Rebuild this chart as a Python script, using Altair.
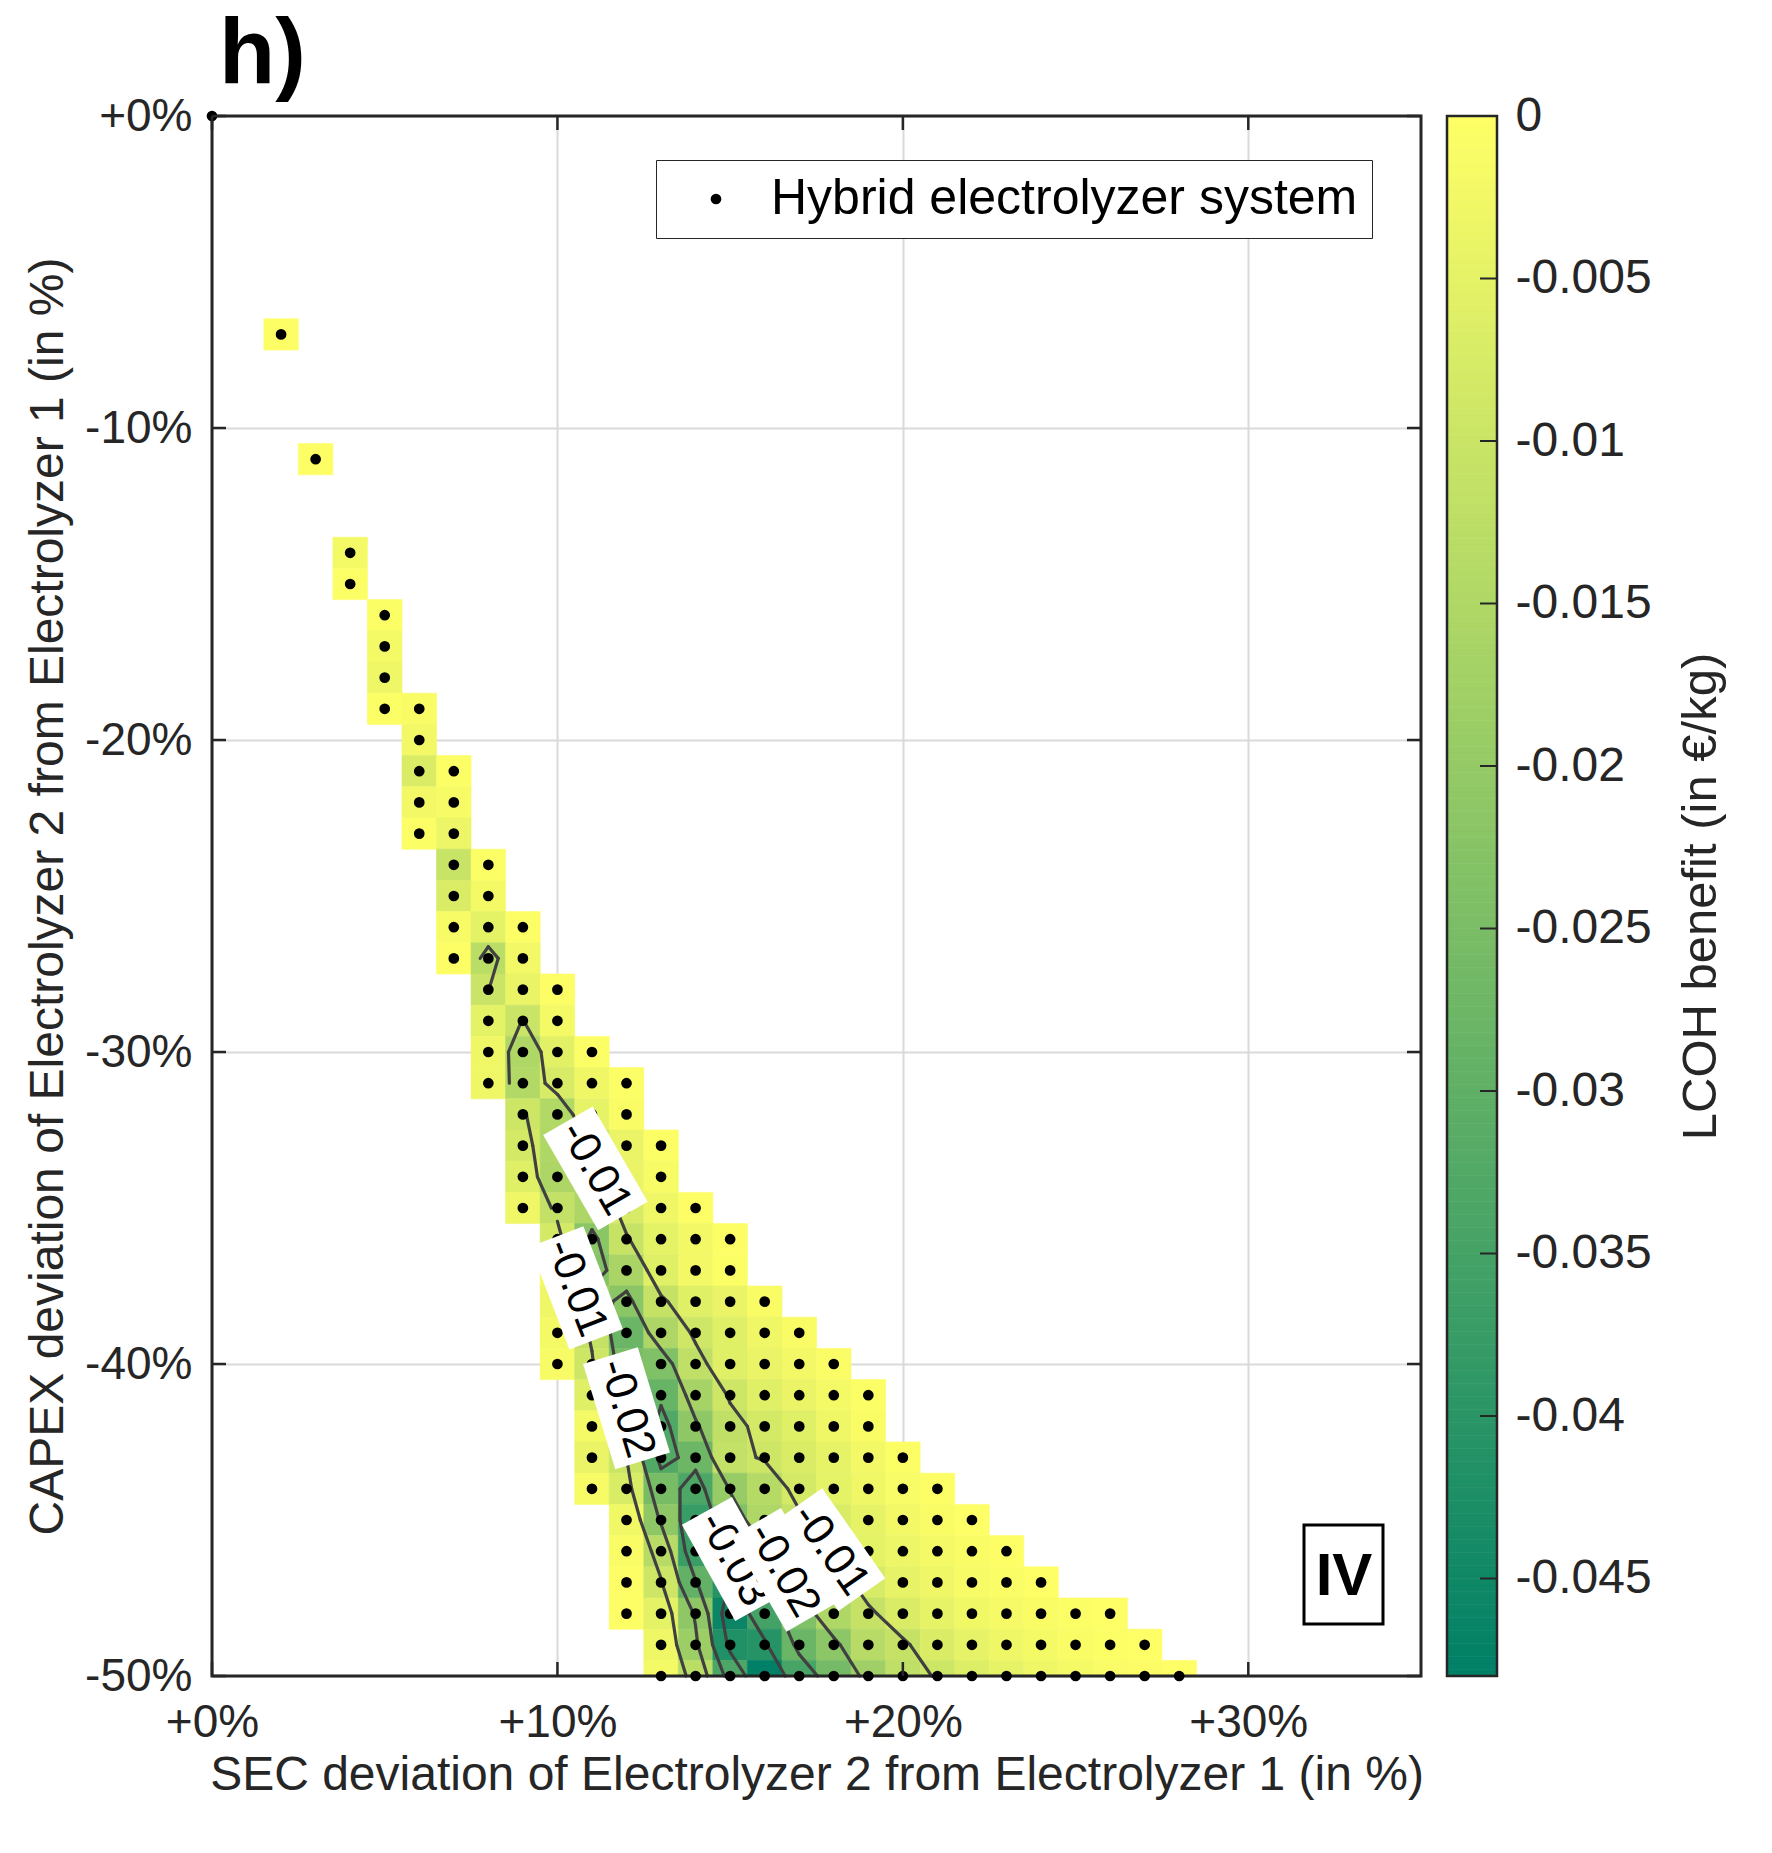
import numpy as np
import pandas as pd
import altair as alt

FONT = "Liberation Sans"
W, H = 1209, 1560

# ---------------- data (LCOH benefit in EUR/kg) ----------------
capex_rows = [-7, -11, -14, -15, -16, -17, -18, -19, -20, -21, -22, -23, -24, -25, -26, -27,
              -28, -29, -30, -31, -32, -33, -34, -35, -36, -37, -38, -39, -40, -41, -42, -43,
              -44, -45, -46, -47, -48, -49, -50]
sec_first = [2, 3, 4, 4, 5, 5, 5, 5, 6, 6, 6, 6, 7, 7, 7, 7,
             8, 8, 8, 8, 9, 9, 9, 9, 10, 10, 10, 10, 10, 11, 11, 11,
             11, 12, 12, 12, 12, 13, 13]
lcoh_rows = [
    [-0.0003],
    [-0.0003],
    [-0.002],
    [-0.0005],
    [-0.0005],
    [-0.002],
    [-0.003],
    [-0.0005, -0.001],
    [-0.0025],
    [-0.007, -0.0005],
    [-0.0025, -0.0015],
    [-0.0005, -0.0035],
    [-0.0103, -0.0005],
    [-0.007, -0.002],
    [-0.0015, -0.005, -0.0003],
    [-0.0003, -0.013, -0.0025],
    [-0.0101, -0.004, -0.0003],
    [-0.005, -0.0102, -0.002],
    [-0.003, -0.015, -0.0055, -0.0005],
    [-0.003, -0.0145, -0.0075, -0.003, -0.0005],
    [-0.0095, -0.0145, -0.0045, -0.001],
    [-0.008, -0.015, -0.009, -0.004, -0.0005],
    [-0.006, -0.0155, -0.013, -0.004, -0.0015],
    [-0.003, -0.0115, -0.0155, -0.0076, -0.003, -0.0003],
    [-0.008, -0.022, -0.0105, -0.005, -0.0025, -0.0003],
    [-0.002, -0.023, -0.016, -0.006, -0.0025, -0.0005],
    [-0.003, -0.017, -0.022, -0.011, -0.006, -0.004, -0.001],
    [-0.002, -0.011, -0.028, -0.0155, -0.009, -0.006, -0.003, -0.001],
    [-0.0015, -0.0093, -0.025, -0.024, -0.012, -0.006, -0.004, -0.0025, -0.0008],
    [-0.006, -0.019, -0.0285, -0.0166, -0.0093, -0.006, -0.004, -0.002, -0.0005],
    [-0.002, -0.01675, -0.033, -0.021, -0.012, -0.008, -0.006, -0.003, -0.001],
    [-0.004, -0.010, -0.0325, -0.0275, -0.0115, -0.0095, -0.007, -0.0045, -0.0025, -0.0005],
    [-0.0015, -0.0073, -0.0255, -0.0337, -0.0195, -0.014, -0.008, -0.005, -0.003, -0.0013, -0.0003],
    [-0.0027, -0.021, -0.0374, -0.024, -0.015, -0.011, -0.007, -0.0045, -0.0025, -0.001, -0.0002],
    [-0.001, -0.0135, -0.037, -0.036, -0.021, -0.015, -0.0095, -0.005, -0.0035, -0.002, -0.001, -0.0003],
    [-0.0003, -0.0095, -0.0295, -0.0405, -0.0275, -0.019, -0.013, -0.0075, -0.0045, -0.003, -0.0015,
     -0.0008, -0.0002],
    [-0.0003, -0.005, -0.021, -0.046, -0.035, -0.024, -0.015, -0.011, -0.007, -0.0045, -0.0028,
     -0.0018, -0.001, -0.0005, -0.0002],
    [-0.003, -0.0185, -0.042, -0.041, -0.028, -0.0215, -0.0135, -0.0108, -0.007, -0.0045, -0.003,
     -0.002, -0.001, -0.0005, -0.0002],
    [-0.002, -0.013, -0.0335, -0.048, -0.0345, -0.026, -0.018, -0.012, -0.0096, -0.0065, -0.0045,
     -0.003, -0.002, -0.0012, -0.0006, -0.0002],
]
extra_dot_sec = [0]
extra_dot_capex = [0]

sec_ticks = [0, 10, 20, 30]
capex_ticks = [0, -10, -20, -30, -40, -50]
lcoh_ticks = [0, -0.005, -0.01, -0.015, -0.02, -0.025, -0.03, -0.035, -0.04, -0.045]
lcoh_range = [-0.048, 0]
contour_levels = [-0.01, -0.02, -0.03, -0.04]

label_text = ["-0.01", "-0.01", "-0.02", "-0.03", "-0.02", "-0.01"]
label_sec = [11.1, 10.55, 12.0, 15.1, 16.55, 17.9]
label_capex = [-33.73, -37.56, -41.42, -46.25, -46.6, -45.95]
label_angle = [60, 69, 73, 61, 60, 55]

legend_label = "Hybrid electrolyzer system"

# ---------------- tables ----------------
cells = []
grid = {}
for cap, s0, vals in zip(capex_rows, sec_first, lcoh_rows):
    for i, v in enumerate(vals):
        s = s0 + i
        grid[(s, cap)] = v
        cells.append(dict(sec=s, capex=cap, lcoh=v, x0=s - 0.5, x1=s + 0.5, y0=cap - 0.5, y1=cap + 0.5))
cells_df = pd.DataFrame(cells)

dots_df = pd.DataFrame({
    "sec": list(cells_df["sec"]) + extra_dot_sec,
    "capex": list(cells_df["capex"]) + extra_dot_capex,
})
dots_df["series"] = legend_label

# marching squares contour segments computed from the grid
segs = []
corner_edges = {0: (3, 0), 1: (0, 1), 2: (1, 2), 3: (2, 3)}
edges = [(0, 1), (1, 2), (2, 3), (3, 0)]
for (sx, cy) in list(grid.keys()):
    corners = [(sx, cy), (sx + 1, cy), (sx + 1, cy - 1), (sx, cy - 1)]
    if not all(c in grid for c in corners):
        continue
    cv = [grid[c] for c in corners]
    for L in contour_levels:
        inside = [v < L for v in cv]
        if all(inside) or not any(inside):
            continue
        pts = {}
        for ei, (p, q) in enumerate(edges):
            if inside[p] != inside[q]:
                t = (L - cv[p]) / (cv[q] - cv[p])
                px = corners[p][0] + t * (corners[q][0] - corners[p][0])
                py = corners[p][1] + t * (corners[q][1] - corners[p][1])
                pts[ei] = (px, py)
        if len(pts) == 2:
            e = list(pts)
            segs.append((*pts[e[0]], *pts[e[1]]))
        else:
            center_in = np.mean(cv) < L
            for k in range(4):
                if inside[k] != center_in:
                    e1, e2 = corner_edges[k]
                    segs.append((*pts[e1], *pts[e2]))
seg_df = pd.DataFrame(segs, columns=["sx1", "sy1", "sx2", "sy2"])

cb_edges = np.linspace(lcoh_range[0], lcoh_range[1], 241)
cb_df = pd.DataFrame({"lo": cb_edges[:-1], "hi": cb_edges[1:]})
cb_df["mid"] = (cb_df["lo"] + cb_df["hi"]) / 2
cb_tick_df = pd.DataFrame({"v": lcoh_ticks})
xt_df = pd.DataFrame({"v": sec_ticks})
yt_df = pd.DataFrame({"v": capex_ticks})
one = pd.DataFrame({"t": ["h)"]})
iv = pd.DataFrame({"t": ["IV"]})

# ---------------- scales / axes ----------------
xs = alt.Scale(domain=[0, 35], nice=False, zero=False)
ys = alt.Scale(domain=[-50, 0], nice=False, zero=False)
cs = alt.Scale(domain=lcoh_range, range=["#008066", "#ffff66"], interpolate="rgb")
AX = "#262626"

x_axis = alt.Axis(values=sec_ticks, labelExpr="'+' + datum.value + '%'", grid=True, gridColor="#dadada",
                  gridWidth=2, ticks=False, domain=False, labelFlush=False, labelOverlap=False,
                  labelFont=FONT, labelFontSize=46, labelColor=AX, labelPadding=24,
                  title="SEC deviation of Electrolyzer 2 from Electrolyzer 1 (in %)",
                  titleFont=FONT, titleFontSize=48, titleFontWeight="normal", titleColor=AX, titlePadding=6)
y_axis = alt.Axis(values=capex_ticks, labelExpr="(datum.value == 0 ? '+' : '') + datum.value + '%'",
                  grid=True, gridColor="#dadada", gridWidth=2, ticks=False, domain=False,
                  labelFlush=False, labelOverlap=False,
                  labelFont=FONT, labelFontSize=46, labelColor=AX, labelPadding=20,
                  title="CAPEX deviation of Electrolyzer 2 from Electrolyzer 1 (in %)",
                  titleFont=FONT, titleFontSize=48, titleFontWeight="normal", titleColor=AX, titlePadding=12)

XQ = lambda f: alt.X(f, scale=xs, axis=x_axis)
YQ = lambda f: alt.Y(f, scale=ys, axis=y_axis)

cell_layer = alt.Chart(cells_df).mark_rect(clip=True, strokeWidth=0.6).encode(
    x=XQ("x0:Q"), x2="x1:Q",
    y=YQ("y0:Q"), y2="y1:Q",
    color=alt.Color("lcoh:Q", scale=cs, legend=None),
    stroke=alt.Stroke("lcoh:Q", scale=cs, legend=None),
)

border = alt.Chart(one).mark_rect(fillOpacity=0, stroke=AX, strokeWidth=3).encode(
    x=alt.value(0), x2=alt.value(W), y=alt.value(0), y2=alt.value(H))

tick_b = alt.Chart(xt_df).mark_rule(color=AX, strokeWidth=2.5).encode(
    x=XQ("v:Q"), y=alt.value(H - 14), y2=alt.value(H))
tick_t = alt.Chart(xt_df).mark_rule(color=AX, strokeWidth=2.5).encode(
    x=XQ("v:Q"), y=alt.value(0), y2=alt.value(14))
tick_l = alt.Chart(yt_df).mark_rule(color=AX, strokeWidth=2.5).encode(
    y=YQ("v:Q"), x=alt.value(0), x2=alt.value(14))
tick_r = alt.Chart(yt_df).mark_rule(color=AX, strokeWidth=2.5).encode(
    y=YQ("v:Q"), x=alt.value(W - 14), x2=alt.value(W))

dots = alt.Chart(dots_df).mark_point(filled=True, color="black", size=115, opacity=1, strokeWidth=0).encode(
    x=XQ("sec:Q"),
    y=YQ("capex:Q"),
    shape=alt.Shape("series:N", scale=alt.Scale(range=["circle"]),
                    legend=alt.Legend(title=None, orient="none", legendX=444, legendY=44,
                                      fillColor="white", strokeColor=AX, padding=14,
                                      symbolOffset=21, labelOffset=30, symbolSize=115,
                                      symbolFillColor="black", symbolStrokeWidth=0, labelLimit=2000,
                                      labelFont=FONT, labelFontSize=50, labelColor="black")),
)

contours = alt.Chart(seg_df).mark_rule(color="#404040", strokeWidth=3.2, strokeCap="round").encode(
    x=XQ("sx1:Q"), y=YQ("sy1:Q"), x2="sx2:Q", y2="sy2:Q")

box_path = "M-1,-0.52L1,-0.52L1,0.52L-1,0.52Z"
label_layers = []
for t, s, c, a in zip(label_text, label_sec, label_capex, label_angle):
    ldf = pd.DataFrame({"sec": [s], "capex": [c], "txt": [t], "ang": [a]})
    label_layers.append(alt.Chart(ldf).mark_point(shape=box_path, filled=True, fill="white", opacity=1,
                                                  size=110 * 110, strokeWidth=0).encode(
        x=XQ("sec:Q"), y=YQ("capex:Q"),
        angle=alt.Angle("ang:Q", scale=None)))
    label_layers.append(alt.Chart(ldf).mark_text(font=FONT, fontSize=44, color="black",
                                                 align="center", baseline="middle").encode(
        x=XQ("sec:Q"), y=YQ("capex:Q"),
        text="txt:N", angle=alt.Angle("ang:Q", scale=None)))

title_txt = alt.Chart(one).mark_text(font=FONT, fontSize=92, fontWeight="bold", color="black",
                                     align="left", baseline="alphabetic").encode(
    x=alt.value(7), y=alt.value(-33), text="t:N")
iv_box = alt.Chart(iv).mark_rect(fill="white", stroke="black", strokeWidth=3).encode(
    x=alt.value(1092), x2=alt.value(1171), y=alt.value(1409), y2=alt.value(1508))
iv_txt = alt.Chart(iv).mark_text(font=FONT, fontSize=60, fontWeight="bold", color="black",
                                 align="center", baseline="middle").encode(
    x=alt.value(1132), y=alt.value(1461), text="t:N")

main = alt.layer(cell_layer, contours, border, dots, tick_b, tick_t, tick_l, tick_r,
                 *label_layers, title_txt, iv_box, iv_txt)

# ---------------- colorbar ----------------
cbs = alt.Scale(domain=lcoh_range, nice=False, zero=False)
cb_axis = alt.Axis(orient="right", offset=76, values=lcoh_ticks, labelExpr="toString(datum.value)",
                   ticks=False, domain=False, grid=False, labelFlush=False, labelOverlap=False,
                   labelFont=FONT, labelFontSize=48, labelColor=AX, labelPadding=18,
                   title="LCOH benefit (in €/kg)", titleFont=FONT, titleFontSize=49,
                   titleFontWeight="normal", titleColor=AX, titleAngle=270, titleBaseline="top",
                   titlePadding=25)
cb_rects = alt.Chart(cb_df).mark_rect(strokeWidth=0.6).encode(
    y=alt.Y("lo:Q", scale=cbs, axis=cb_axis), y2="hi:Q",
    x=alt.value(1235), x2=alt.value(1285),
    color=alt.Color("mid:Q", scale=cs, legend=None),
    stroke=alt.Stroke("mid:Q", scale=cs, legend=None))
cb_ticks = alt.Chart(cb_tick_df).mark_rule(color=AX, strokeWidth=2).encode(
    y=alt.Y("v:Q", scale=cbs, axis=cb_axis), x=alt.value(1268), x2=alt.value(1285))
cb_border = alt.Chart(one).mark_rect(fillOpacity=0, stroke=AX, strokeWidth=2.5).encode(
    x=alt.value(1235), x2=alt.value(1285), y=alt.value(0), y2=alt.value(H))
cbar = alt.layer(cb_rects, cb_ticks, cb_border)

chart = alt.layer(main, cbar).resolve_scale(y="independent").properties(
    width=W, height=H,
    autosize=alt.AutoSizeParams(type="none"),
    padding={"left": 212, "top": 116, "right": 351, "bottom": 177},
    background="white",
).configure(font=FONT).configure_view(stroke=None)

chart.save("out.html", embed_options={"renderer": "svg", "actions": False})
